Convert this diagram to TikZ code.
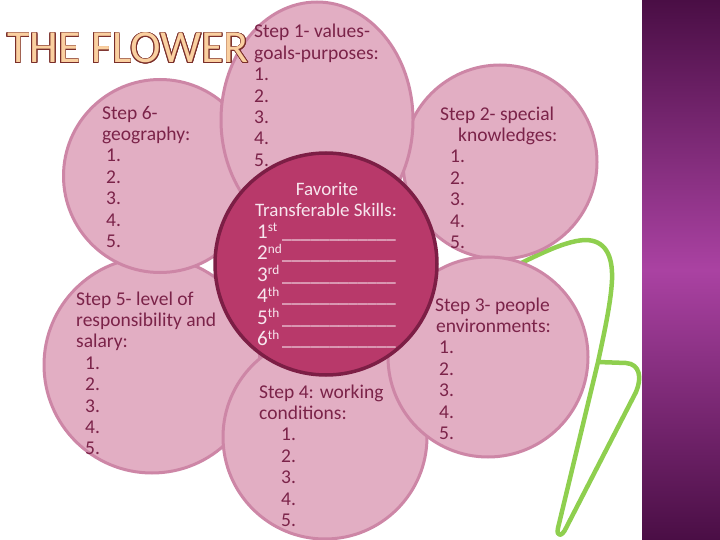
\documentclass[tikz,border=0pt]{standalone}
\usepackage{fontspec}
\setmainfont{Carlito}
\usepackage{contour}
\contourlength{0.7pt}
\usetikzlibrary{shapes.geometric}
\definecolor{petalfill}{HTML}{E2AEC3}
\definecolor{petaledge}{HTML}{CD86A6}
\definecolor{corefill}{HTML}{B8396A}
\definecolor{coreedge}{HTML}{7C1E45}
\definecolor{txt}{HTML}{7B2349}
\definecolor{coretxt}{HTML}{F7E6EE}
\definecolor{stemgreen}{HTML}{8FCF4F}
\definecolor{bardark}{HTML}{4A0E45}
\definecolor{barmid}{HTML}{AA42A2}
\definecolor{titlefill}{HTML}{FAD0A0}
\definecolor{titleedge}{HTML}{7A2E2A}
\newcommand\myblanks{\_\_\_\_\_\_\_\_\_\_\_\_}
\newcommand\myord[2]{\makebox[25pt][l]{{\fontsize{21}{21}\selectfont #1}\textsuperscript{#2}}\myblanks}
\begin{document}
\begin{tikzpicture}[x=1pt,y=-1pt,
  petal/.style={circle,draw=petaledge,line width=3pt,fill=petalfill,inner sep=0pt},
  epetal/.style={ellipse,draw=petaledge,line width=3pt,fill=petalfill,inner sep=0pt},
  core/.style={circle,draw=coreedge,line width=3.5pt,fill=corefill,inner sep=0pt},
  lbl/.style={anchor=base west,inner sep=0pt,align=left,text=txt,font=\fontsize{19.5}{21.4}\selectfont},
  ctxt/.style={inner sep=0pt,text=coretxt,font=\fontsize{19}{21.5}\selectfont},
  stem/.style={draw=stemgreen,line width=4.5pt,line cap=round,line join=round}]
\useasboundingbox (0,0) rectangle (720,540);
% side bar
\shade[top color=bardark,bottom color=bardark,middle color=barmid] (642,0) rectangle (720,540);
% stem
\coordinate (s0) at (495,276);
\coordinate (sj) at (598,362);
\draw[stem] (s0) .. controls (530,259) and (562,241) .. (585,240)
  .. controls (605,240) and (613,255) .. (612,280)
  .. controls (611,300) and (606,325) .. (sj) -- (558,528)
  .. controls (556,537) and (562,537) .. (566,528) -- (636,392)
  .. controls (642,378) and (640,364) .. (626,363) -- (sj);
% petals
\node[petal,minimum size=194pt] (p2) at (500,162) {};
\node[petal,minimum size=216pt] (p5) at (152,365) {};
\node[petal,minimum size=204pt] (p4) at (325,437) {};
\node[petal,minimum size=200pt] (p3) at (488,357) {};
\node[petal,minimum size=193pt] (p6) at (160,176) {};
\node[epetal,minimum width=192pt,minimum height=236pt] (p1) at (317,120) {};
\node[core,minimum size=222pt] (c) at (326,264) {};
% title
\node[anchor=base west,inner sep=0pt,text=titlefill,font=\fontsize{46}{46}\selectfont] (title) at (7,63) {\contour{titleedge}{THE FLOWER}};
% petal texts (anchor = baseline of the last line)
\node[lbl] (t1) at (254,166.4) {Step 1- values-\\goals-purposes:\\1.\\2.\\3.\\4.\\5.};
\node[lbl] (t2) at (440,248.4) {Step 2- special\\\hspace{18pt}knowledges:\\\hspace{10pt}1.\\\hspace{10pt}2.\\\hspace{10pt}3.\\\hspace{10pt}4.\\\hspace{10pt}5.};
\node[lbl] (t3) at (435,439.4) {Step 3- people\\\hspace{1pt}environments:\\\hspace{4pt}1.\\\hspace{4pt}2.\\\hspace{4pt}3.\\\hspace{4pt}4.\\\hspace{4pt}5.};
\node[lbl] (t4) at (259,526.4) {Step 4: working\\conditions:\\\hspace{22pt}1.\\\hspace{22pt}2.\\\hspace{22pt}3.\\\hspace{22pt}4.\\\hspace{22pt}5.};
\node[lbl] (t5) at (76,454.8) {Step 5- level of\\responsibility and\\salary:\\\hspace{9pt}1.\\\hspace{9pt}2.\\\hspace{9pt}3.\\\hspace{9pt}4.\\\hspace{9pt}5.};
\node[lbl] (t6) at (102,247.4) {Step 6-\\geography:\\\hspace{4pt}1.\\\hspace{4pt}2.\\\hspace{4pt}3.\\\hspace{4pt}4.\\\hspace{4pt}5.};
% center texts
\node[ctxt,anchor=base] (ch1) at (327,196) {Favorite};
\node[ctxt,anchor=base] (ch2) at (326,216) {Transferable Skills:};
\node[ctxt,anchor=base west,align=left] (cl) at (257,345.5) {\myord{1}{st}\\\myord{2}{nd}\\\myord{3}{rd}\\\myord{4}{th}\\\myord{5}{th}\\\myord{6}{th}};
\end{tikzpicture}
\end{document}
